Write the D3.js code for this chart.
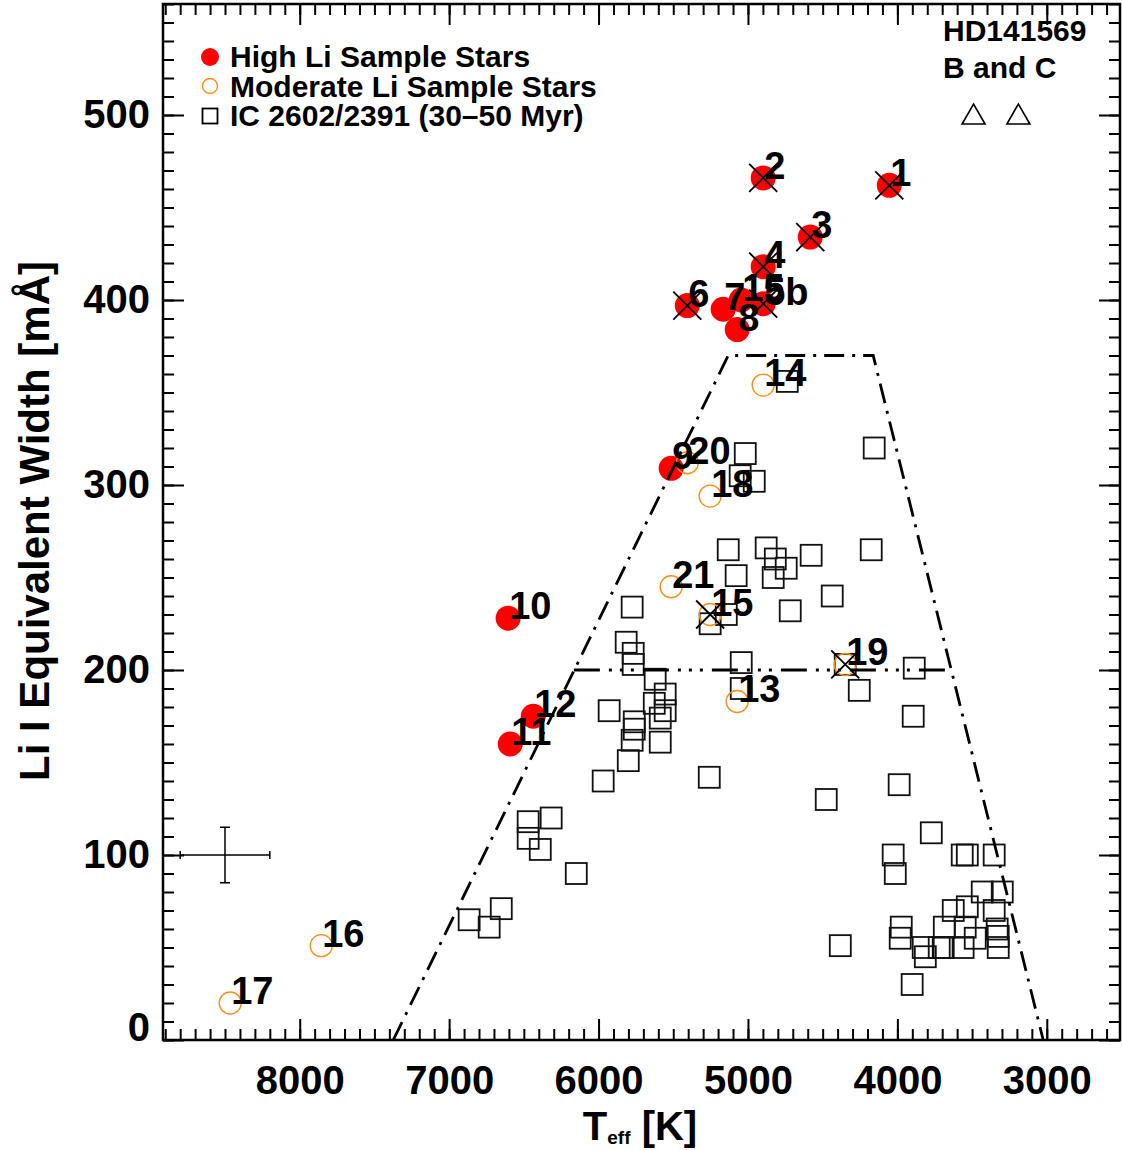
<!DOCTYPE html>
<html>
<head>
<meta charset="utf-8">
<script src="https://cdn.jsdelivr.net/npm/d3@7"></script>
<style>
body{margin:0;background:#fff;}
svg text{font-family:"Liberation Sans",Arial,Helvetica,sans-serif;font-weight:bold;fill:#000;}
</style>
</head>
<body>
<div id="chart"></div>
<script>
// high Li sample stars (filled red)
var highLabel = ['1','2','3','4','5b','6','7','15','8','9','10','11','12'];
var highTeff  = [4054, 4898, 4583, 4898, 4898, 5406, 5166, 5045, 5072, 5514, 6605, 6591, 6437];
var highLi    = [462, 466, 434, 418, 398, 397, 395, 400, 384, 309, 228, 160, 175];

// moderate Li sample stars (open orange)
var modLabel = ['13','14','15','16','17','18','19','20','21'];
var modTeff  = [5072, 4898, 5253, 7856, 8465, 5253, 4349, 5406, 5514];
var modLi    = [183, 354, 230, 51, 20, 294, 203, 312, 245];

// stars marked with a cross
var crossed = ['1','2','3','4','5b','6','15','19'];

// IC 2602/2391 cluster members
var icTeff = [4737,5018,5052,4958,4155,5132,4878,4817,4744,4831,4577,4175,5079,4436,4717,5775,5145,5253,
    5815,5768,5768,5621,5554,5627,5554,5587,5929,5761,5761,5775,5587,5801,5969,5259,5045,5045,4255,4349,
    3887,3894,4476,3988,3773,4028,4014,3566,3532,3352,3432,3298,3626,3532,3352,3332,3325,3325,3974,3981,
    3827,3813,3686,3693,3720,3546,3560,3479,3901,4382,6471,6317,6471,6390,6149,6651,6866,6732];
var icLi = [356,317,305,302,320,265,266,260,255,250,262,265,251,240,232,234,230,225,
    215,209,203,195,187,182,178,174,178,172,168,162,161,151,140,142,204,190,189,203,
    201,175,130,138,112,100,90,100,100,100,80,80,70,72,70,60,56,50,61,55,
    50,45,61,50,50,61,50,55,30,51,118,120,109,103,90,71,65,61];

// HD141569 B and C
var hdTeff = [3490, 3190];
var hdLi   = [500, 500];

// envelope and 200 mA line
var envTeff = [7374, 5132, 4162, 3024];
var envLi   = [0, 370, 370, 0];
var midTeff = [6165, 3645];
var midLi   = [200, 200];

// typical error bar
var errTeff = 8500, errLi = 100, errDT = 300, errDLi = 15;

var xTicks = [8000, 7000, 6000, 5000, 4000, 3000];
var yTicks = [0, 100, 200, 300, 400, 500];

var width = 1122, height = 1150;
var pLeft = 163, pRight = 1120, pTop = 4, pBottom = 1040;

var svg = d3.select('#chart').append('svg')
    .attr('width', width)
    .attr('height', height);

var x = d3.scaleLinear().domain([8915, 2510]).range([pLeft, pRight]);
var y = d3.scaleLinear().domain([0, 560]).range([pBottom, pTop]);

//axes: major + minor ticks on all four sides
function tickAxis(axis, vals, size, labels){
    axis.tickValues(vals).tickSizeInner(-size).tickSizeOuter(0);
    axis.tickFormat(labels ? d3.format('d') : '');
    return axis;
}
var xMinor = d3.range(2600, 8901, 100);
var yMinor = d3.range(0, 561, 10);

var gxb = svg.append('g').attr('transform', 'translate(0,' + pBottom + ')');
gxb.call(tickAxis(d3.axisBottom(x), xMinor, 11, false));
gxb.append('g').call(tickAxis(d3.axisBottom(x), xTicks, 21, true).tickPadding(26));
var gxt = svg.append('g').attr('transform', 'translate(0,' + pTop + ')');
gxt.call(tickAxis(d3.axisTop(x), xMinor, 11, false));
gxt.append('g').call(tickAxis(d3.axisTop(x), xTicks, 21, false));
var gyl = svg.append('g').attr('transform', 'translate(' + pLeft + ',0)');
gyl.call(tickAxis(d3.axisLeft(y), yMinor, 11, false));
gyl.append('g').call(tickAxis(d3.axisLeft(y), yTicks, 21, true).tickPadding(13));
var gyr = svg.append('g').attr('transform', 'translate(' + pRight + ',0)');
gyr.call(tickAxis(d3.axisRight(y), yMinor, 11, false));
gyr.append('g').call(tickAxis(d3.axisRight(y), yTicks, 21, false));

svg.selectAll('.domain').remove();
svg.selectAll('.tick line').attr('stroke', '#000').attr('stroke-width', 2);
svg.selectAll('.tick text')
    .style('font-size', '40px')
    .style('font-family', '"Liberation Sans",Arial,sans-serif')
    .style('font-weight', 'bold')
    .attr('fill', '#000');
// lowest y label sits on the axis
gyl.selectAll('.tick text').filter(function(d){ return d === 0; }).attr('dy', '0em');

svg.append('rect')
    .attr('x', pLeft).attr('y', pTop)
    .attr('width', pRight - pLeft).attr('height', pBottom - pTop)
    .attr('fill', 'none').attr('stroke', '#000').attr('stroke-width', 2.5);

var plot = svg.append('g');

//IC 2602/2391 squares
var sq = 10.5;
plot.selectAll('rect.ic').data(d3.range(icTeff.length)).enter().append('rect')
    .attr('class', 'ic')
    .attr('x', function(i){ return x(icTeff[i]) - sq; })
    .attr('y', function(i){ return y(icLi[i]) - sq; })
    .attr('width', 2*sq).attr('height', 2*sq)
    .attr('fill', 'none').attr('stroke', '#111').attr('stroke-width', 1.8);

//high Li
plot.selectAll('circle.high').data(d3.range(highTeff.length)).enter().append('circle')
    .attr('cx', function(i){ return x(highTeff[i]); })
    .attr('cy', function(i){ return y(highLi[i]); })
    .attr('r', 12.5)
    .attr('fill', '#ff0000');

//moderate Li
plot.selectAll('circle.mod').data(d3.range(modTeff.length)).enter().append('circle')
    .attr('cx', function(i){ return x(modTeff[i]); })
    .attr('cy', function(i){ return y(modLi[i]); })
    .attr('r', 11)
    .attr('fill', 'none').attr('stroke', '#ff8c1a').attr('stroke-width', 1.4);

//crosses
var pts = [];
for(var i=0; i<highLabel.length; i++) pts.push({label:highLabel[i], t:highTeff[i], li:highLi[i]});
for(var j=0; j<modLabel.length; j++) pts.push({label:modLabel[j], t:modTeff[j], li:modLi[j]});
var cs = 14;
pts.filter(function(p){ return crossed.indexOf(p.label) >= 0 && !(p.label === '15' && p.t === 5045); })
    .forEach(function(p){
        var cx = x(p.t), cy = y(p.li);
        plot.append('path')
            .attr('d', 'M' + (cx-cs) + ',' + (cy-cs) + 'L' + (cx+cs) + ',' + (cy+cs) +
                       'M' + (cx-cs) + ',' + (cy+cs) + 'L' + (cx+cs) + ',' + (cy-cs))
            .attr('stroke', '#000').attr('stroke-width', 1.8).attr('fill', 'none');
    });

//envelope lines
var line = d3.line().x(function(d){ return x(d[0]); }).y(function(d){ return y(d[1]); });
plot.append('path')
    .attr('d', line(d3.zip(envTeff, envLi)))
    .attr('fill', 'none').attr('stroke', '#000').attr('stroke-width', 2.8)
    .attr('stroke-dasharray', '20,8,3,8');
plot.append('path')
    .attr('d', line(d3.zip(midTeff, midLi)))
    .attr('fill', 'none').attr('stroke', '#000').attr('stroke-width', 2.8)
    .attr('stroke-dasharray', '26,9,3,8,3,8,3,9');

//HD141569 triangles
hdTeff.forEach(function(t, k){
    var tx = x(t), ty = y(hdLi[k]);
    plot.append('path')
        .attr('d', 'M' + (tx-11.5) + ',' + (ty+9) + 'L' + tx + ',' + (ty-11) + 'L' + (tx+11.5) + ',' + (ty+9) + 'Z')
        .attr('fill', 'none').attr('stroke', '#000').attr('stroke-width', 1.6);
});

//error bar
var ex = x(errTeff), ey = y(errLi);
var ex0 = x(errTeff + errDT), ex1 = x(errTeff - errDT);
var ey0 = y(errLi + errDLi), ey1 = y(errLi - errDLi);
plot.append('path')
    .attr('d', 'M' + ex0 + ',' + ey + 'L' + ex1 + ',' + ey +
               'M' + ex0 + ',' + (ey-4) + 'L' + ex0 + ',' + (ey+4) +
               'M' + ex1 + ',' + (ey-4) + 'L' + ex1 + ',' + (ey+4) +
               'M' + ex + ',' + ey0 + 'L' + ex + ',' + ey1 +
               'M' + (ex-5) + ',' + ey0 + 'L' + (ex+5) + ',' + ey0 +
               'M' + (ex-5) + ',' + ey1 + 'L' + (ex+5) + ',' + ey1)
    .attr('stroke', '#000').attr('stroke-width', 1.5).attr('fill', 'none');

//star labels
plot.selectAll('text.lbl').data(pts).enter().append('text')
    .attr('x', function(p){ return x(p.t) + 1; })
    .attr('y', function(p){ return y(p.li) + 1; })
    .style('font-size', '38px')
    .text(function(p){ return p.label; });

//legend
var lg = svg.append('g');
lg.append('circle').attr('cx', 210).attr('cy', 57).attr('r', 9).attr('fill', '#ff0000');
lg.append('circle').attr('cx', 210).attr('cy', 86).attr('r', 7.5)
    .attr('fill', 'none').attr('stroke', '#ff8c1a').attr('stroke-width', 1.4);
lg.append('rect').attr('x', 202.5).attr('y', 108.5).attr('width', 15).attr('height', 15)
    .attr('fill', 'none').attr('stroke', '#000').attr('stroke-width', 1.8);
var legendText = ['High Li Sample Stars', 'Moderate Li Sample Stars', 'IC 2602/2391 (30\u201350 Myr)'];
legendText.forEach(function(t, k){
    lg.append('text').attr('x', 230).attr('y', 67 + k*29.5).style('font-size', '30px').text(t);
});

svg.append('text').attr('x', 943).attr('y', 41).style('font-size', '30px').text('HD141569');
svg.append('text').attr('x', 943).attr('y', 78).style('font-size', '30px').text('B and C');

//axis titles
svg.append('text')
    .attr('transform', 'translate(49,521) rotate(-90)')
    .attr('text-anchor', 'middle')
    .style('font-size', '42px')
    .text('Li I Equivalent Width [m\u00c5]');

var xt = svg.append('text').attr('x', 640).attr('y', 1140).attr('text-anchor', 'middle').style('font-size', '40px');
xt.append('tspan').text('T');
xt.append('tspan').attr('dy', 4).style('font-size', '19px').text('eff');
xt.append('tspan').attr('dy', -4).text(' [K]');
</script>
</body>
</html>
